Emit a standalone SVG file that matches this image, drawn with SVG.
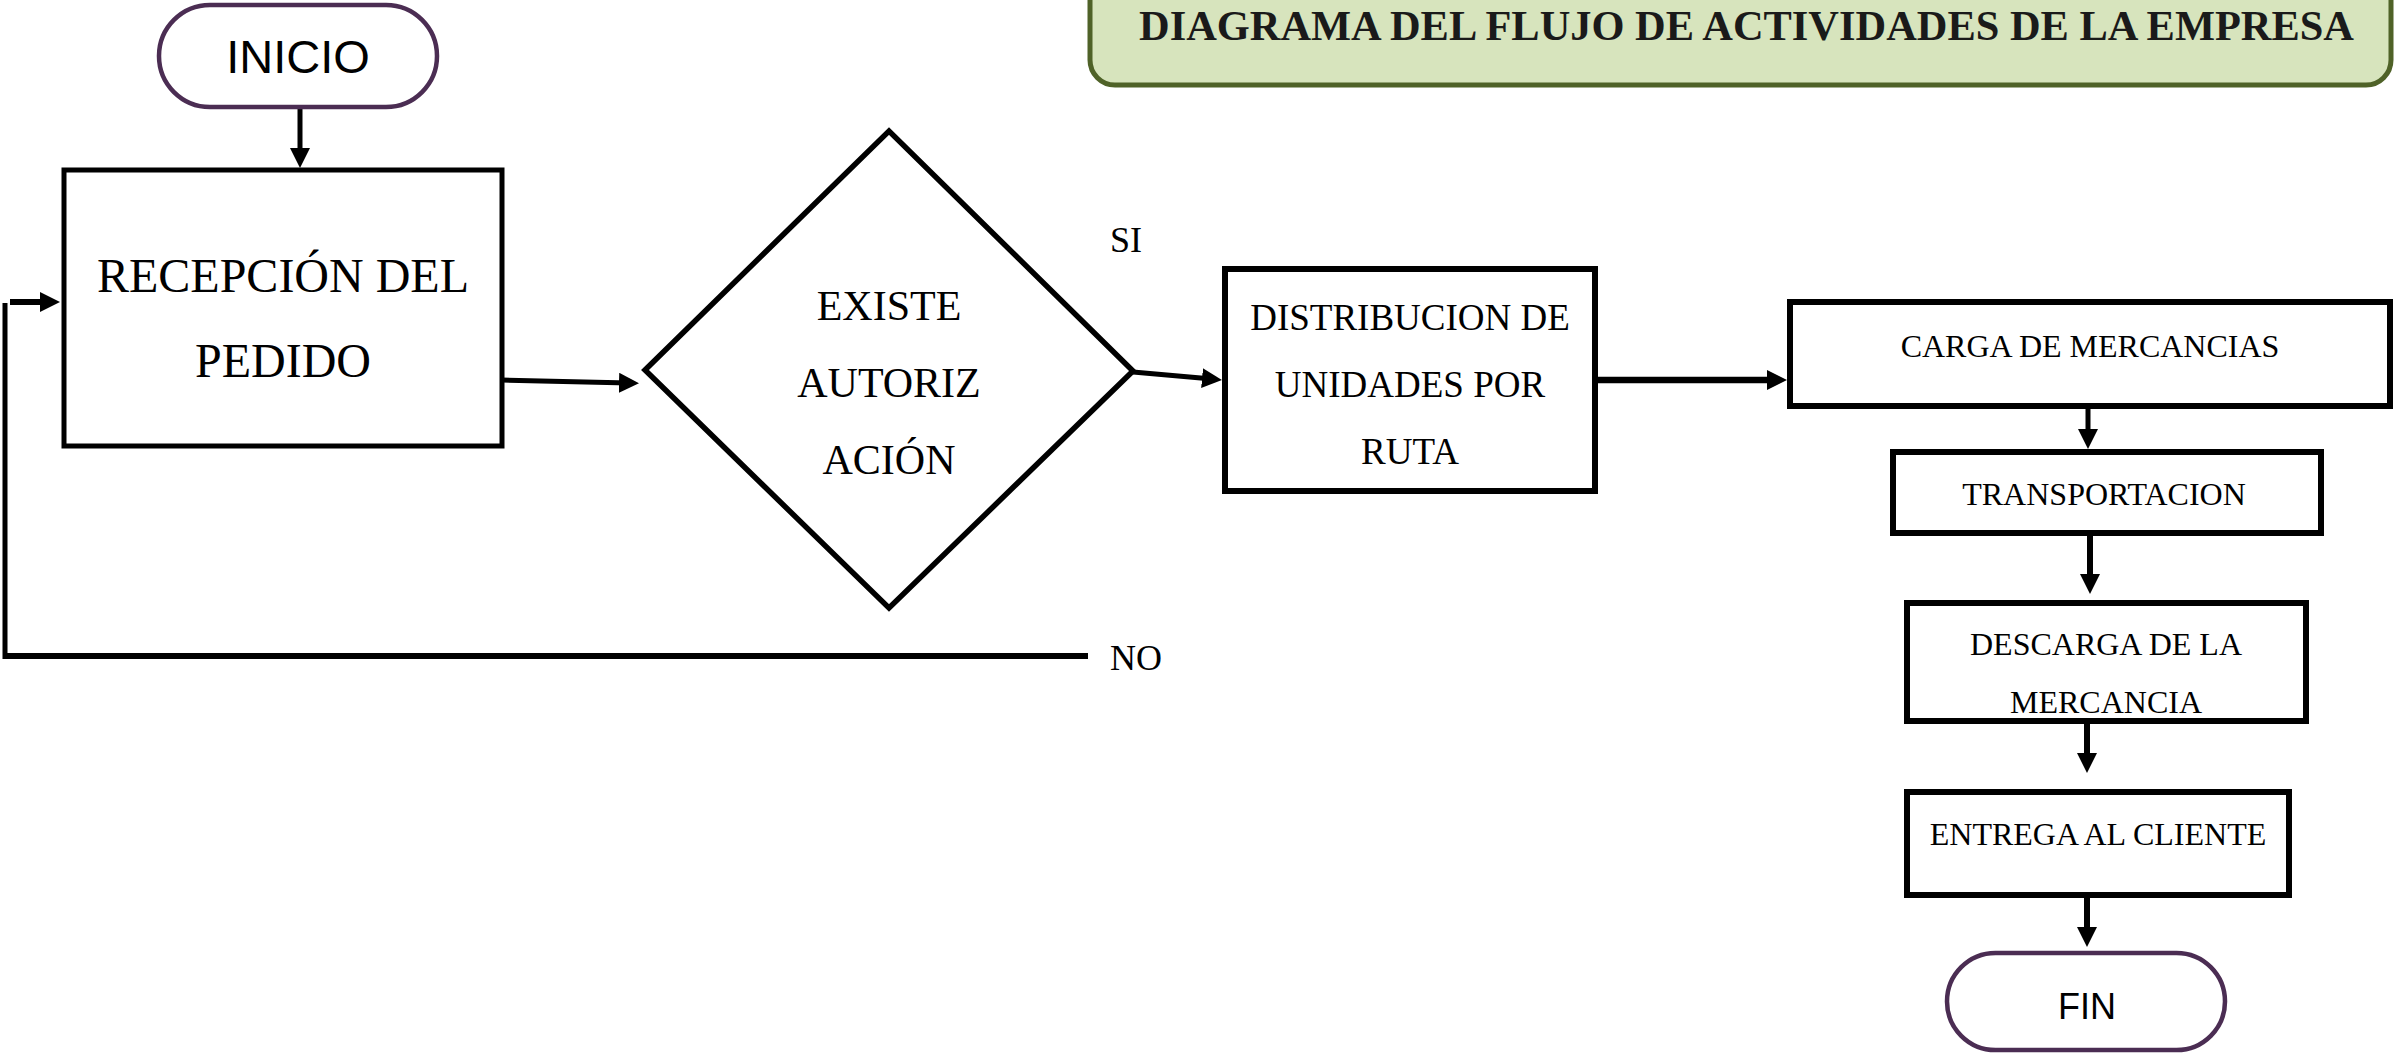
<svg xmlns="http://www.w3.org/2000/svg" width="2394" height="1053" viewBox="0 0 2394 1053">
<style>
  .box { fill: #ffffff; stroke: #000000; stroke-width: 6; }
  .term { fill: #ffffff; stroke: #4b2d53; stroke-width: 4.5; }
  .serif { font-family: "Liberation Serif", "Times New Roman", serif; fill: #000000; text-anchor: middle; }
  .sans { font-family: "Liberation Sans", Arial, sans-serif; fill: #000000; text-anchor: middle; }
  .conn { fill: none; stroke: #000000; stroke-width: 5; }
  .arr { marker-end: url(#ah); }
</style>
<defs>
  <marker id="ah" markerUnits="userSpaceOnUse" viewBox="0 0 20 20" refX="10" refY="10" markerWidth="20" markerHeight="20" orient="auto">
    <path d="M0,0 L20,10 L0,20 z" fill="#000000"/>
  </marker>
</defs>
<rect width="2394" height="1053" fill="#ffffff"/>

<g id="title">
  <rect x="1090" y="-30" width="1301" height="115" rx="25" fill="#d7e4bd" stroke="#4f6228" stroke-width="5"/>
  <text x="1139" y="40" font-family="'Liberation Serif', 'Times New Roman', serif" font-weight="bold" font-size="42" fill="#1a1a1a" textLength="1215" lengthAdjust="spacingAndGlyphs">DIAGRAMA DEL FLUJO DE ACTIVIDADES DE LA EMPRESA</text>
</g>

<g id="connectors">
  <line class="conn arr" x1="300" y1="109" x2="300" y2="158"/>
  <line class="conn" x1="5" y1="656" x2="1088" y2="656" style="stroke-width:6"/>
  <line class="conn" x1="5" y1="303" x2="5" y2="659"/>
  <line class="conn arr" x1="10" y1="302" x2="50" y2="302" style="stroke-width:6"/>
  <line class="conn arr" x1="502" y1="380" x2="629" y2="383"/>
  <line class="conn arr" x1="1133" y1="372" x2="1212" y2="379"/>
  <line class="conn arr" x1="1595" y1="380" x2="1777" y2="380" style="stroke-width:6.5"/>
  <line class="conn arr" x1="2088" y1="406" x2="2088" y2="439"/>
  <line class="conn arr" x1="2090" y1="533" x2="2090" y2="584" style="stroke-width:6"/>
  <line class="conn arr" x1="2087" y1="724" x2="2087" y2="763" style="stroke-width:6"/>
  <line class="conn arr" x1="2087" y1="898" x2="2087" y2="937" style="stroke-width:6"/>
  <text class="serif" x="1110" y="252" font-size="36" style="text-anchor:start">SI</text>
  <text class="serif" x="1110" y="670" font-size="36" style="text-anchor:start">NO</text>
</g>

<g id="inicio">
  <rect class="term" x="159" y="5" width="278" height="102" rx="51"/>
  <text class="sans" x="298" y="73" font-size="47">INICIO</text>
</g>

<g id="recepcion">
  <rect class="box" x="64" y="170" width="438" height="276" style="stroke-width:5"/>
  <text class="serif" x="283" y="292" font-size="48">RECEPCIÓN DEL</text>
  <text class="serif" x="283" y="377" font-size="48">PEDIDO</text>
</g>

<g id="decision">
  <polygon class="box" points="645,370 889,131 1133,371 889,608" style="stroke-width:5.5"/>
  <text class="serif" x="889" y="320" font-size="42">EXISTE</text>
  <text class="serif" x="889" y="397" font-size="42">AUTORIZ</text>
  <text class="serif" x="889" y="474" font-size="42">ACIÓN</text>
</g>

<g id="distribucion">
  <rect class="box" x="1225" y="269" width="370" height="222"/>
  <text class="serif" x="1410" y="330" font-size="37">DISTRIBUCION DE</text>
  <text class="serif" x="1410" y="397" font-size="37">UNIDADES POR</text>
  <text class="serif" x="1410" y="464" font-size="37">RUTA</text>
</g>

<g id="carga">
  <rect class="box" x="1790" y="302" width="600" height="104"/>
  <text class="serif" x="2090" y="357" font-size="32">CARGA DE MERCANCIAS</text>
</g>

<g id="transportacion">
  <rect class="box" x="1893" y="452" width="428" height="81"/>
  <text class="serif" x="2104" y="505" font-size="32">TRANSPORTACION</text>
</g>

<g id="descarga">
  <rect class="box" x="1907" y="603" width="399" height="118"/>
  <text class="serif" x="2106" y="655" font-size="32">DESCARGA DE LA</text>
  <text class="serif" x="2106" y="713" font-size="32">MERCANCIA</text>
</g>

<g id="entrega">
  <rect class="box" x="1907" y="792" width="382" height="103"/>
  <text class="serif" x="2098" y="845" font-size="32">ENTREGA AL CLIENTE</text>
</g>

<g id="fin">
  <rect class="term" x="1947" y="953" width="278" height="97" rx="48.5"/>
  <text class="sans" x="2087" y="1019" font-size="36">FIN</text>
</g>
</svg>
